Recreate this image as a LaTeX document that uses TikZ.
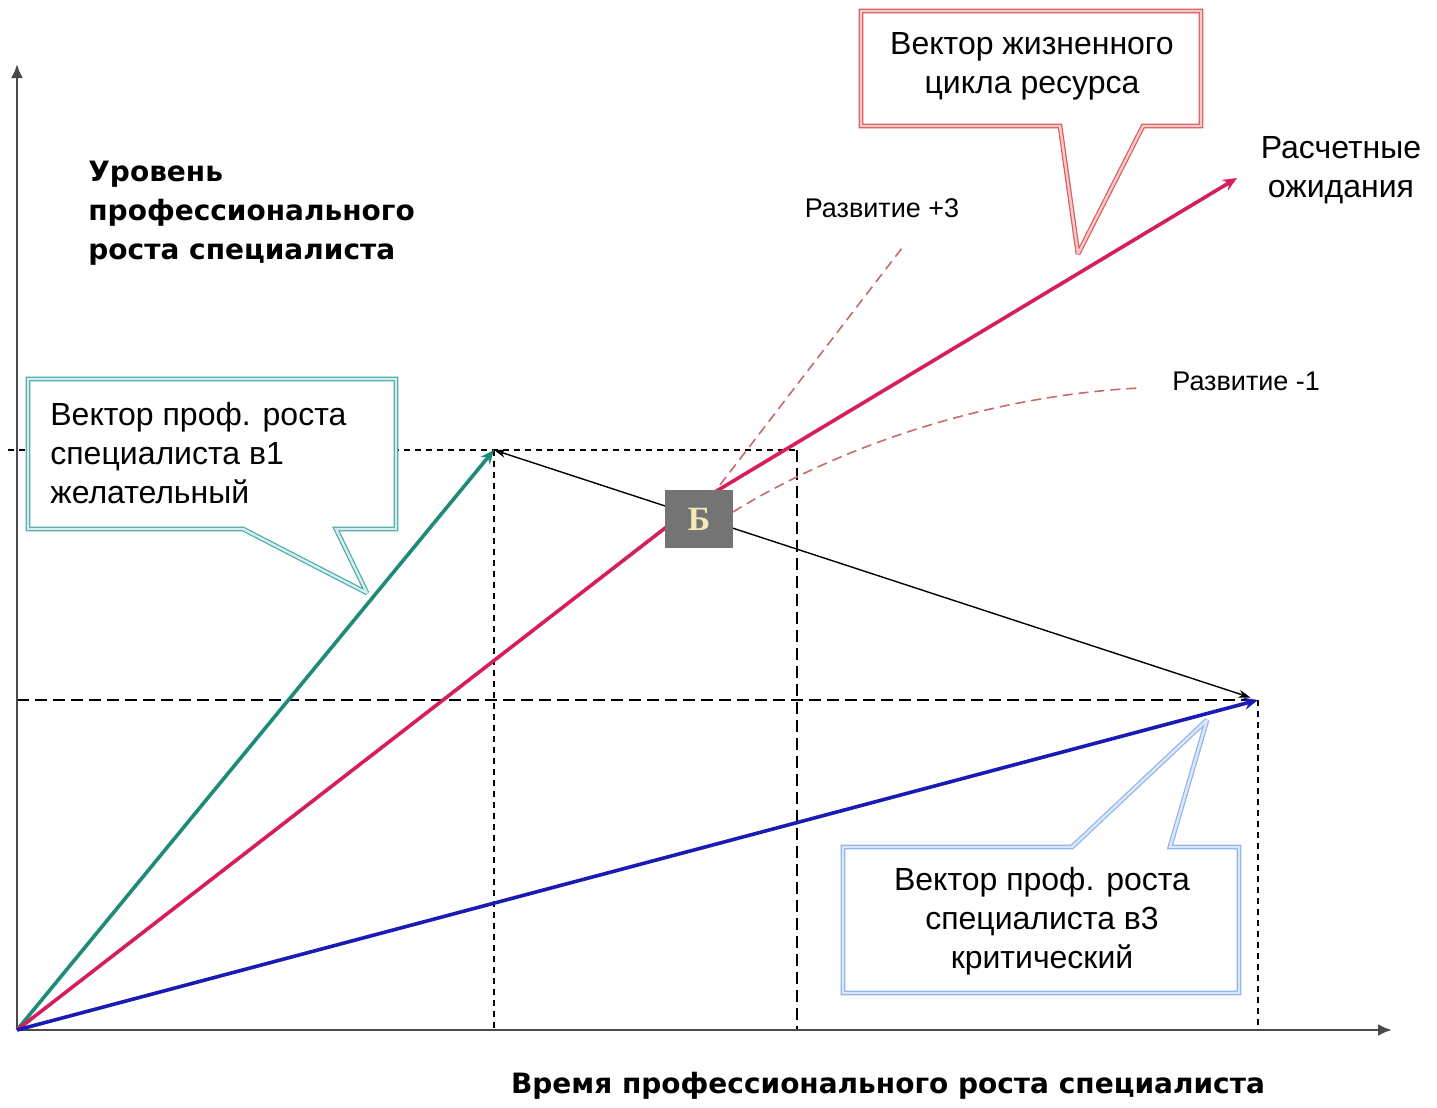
\documentclass[tikz,border=0pt]{standalone}
\usepackage{fontspec}
\setmainfont{Liberation Sans}
\newfontfamily\axisfont{DejaVu Sans Bold}
\newfontfamily\letterfont{Liberation Serif Bold}
\usetikzlibrary{arrows.meta}
\definecolor{axisgray}{HTML}{4A4A4A}
\definecolor{tealvec}{HTML}{1E8A78}
\definecolor{crimsonvec}{HTML}{D61E5C}
\definecolor{bluevec}{HTML}{1A1AB4}
\definecolor{trendred}{HTML}{C86A6A}
\definecolor{boxgray}{HTML}{747474}
\definecolor{letteryellow}{HTML}{F2EBB5}
\definecolor{calloutred}{HTML}{D95B5B}
\definecolor{calloutredin}{HTML}{F6C9C9}
\definecolor{calloutteal}{HTML}{4FA9A9}
\definecolor{callouttealin}{HTML}{D3EEEE}
\definecolor{calloutblue}{HTML}{8DB3EA}
\definecolor{calloutbluein}{HTML}{DCE8FA}

\begin{document}
\begin{tikzpicture}[x=0.5pt, y=-0.5pt,
  font=\fontsize{16}{19.5}\selectfont,
  axis/.style={draw=axisgray, line width=1.4pt, -{Latex[length=7pt, width=6pt]}},
  guide/.style={draw=black, line width=0.8pt, dash pattern=on 3pt off 2.5pt},
  guidelong/.style={draw=black, line width=0.8pt, dash pattern=on 6pt off 3pt},
  vec/.style={line width=1.8pt, -{Stealth[length=7pt, width=6pt]}},
  trend/.style={draw=trendred, line width=0.8pt, dash pattern=on 5pt off 3pt},
  callout/.style={fill=white, line width=0.6pt, double distance=1.2pt, miter limit=3},
  lbl/.style={inner sep=0pt, align=center},
  small/.style={lbl, font=\fontsize{13.5}{15}\selectfont},
  axislabel/.style={inner sep=0pt, align=left, font=\axisfont\fontsize{14}{19.5}\selectfont}]
\useasboundingbox (0,0) rectangle (1437,1108);
\coordinate (o) at (17,1030);
\coordinate (ytop) at (17,64);
\coordinate (xend) at (1392,1030);
\coordinate (v1) at (494,450);
\coordinate (v3) at (1258,700);
\coordinate (vr) at (1237,178);
\coordinate (bk) at (700,501);
\coordinate (mid) at (797,450);

\draw[guide] ([xshift=-4.5pt]o |- v1) -- (mid);
\draw[guide] (v1) -- (v1 |- o);
\draw[guidelong] (mid) -- (mid |- o);
\draw[guidelong] (o |- v3) -- (v3);
\draw[guide] (v3) -- (v3 |- o);
\draw[axis] (o) -- (ytop);
\draw[axis] (o) -- (xend);

\draw[vec, draw=tealvec] (o) -- (v1);
\draw[vec, draw=crimsonvec] (o) -- (bk) -- (vr);
\draw[vec, draw=bluevec] (o) -- (v3);
\draw[trend] (720,485) -- (902,248);
\draw[trend] (733,512) .. controls (850,440) and (1000,395) .. (1140,388);
\draw[line width=0.7pt, {Stealth[length=6pt, width=4pt]}-{Stealth[length=6pt, width=4pt]}, shorten >=4pt] (v1) -- (v3);

\node[fill=boxgray, minimum width=34pt, minimum height=29pt, inner sep=0pt,
  font=\letterfont\fontsize{17}{17}\selectfont, text=letteryellow] (b) at (699,519) {Б};

\draw[callout, draw=calloutred, double=calloutredin] (861,11) -- (1201,11) -- (1201,126) -- (1143,126)
  -- (1078,254) -- (1060,126) -- (861,126) -- cycle;
\node[lbl] (life) at (1032,66) {Вектор жизненного\\цикла ресурса};
\draw[callout, draw=calloutteal, double=callouttealin] (28,379) -- (396,379) -- (396,529) -- (336,529)
  -- (367,593) -- (243,529) -- (28,529) -- cycle;
\node[lbl, anchor=west, align=left] (want) at (50,453) {Вектор проф. роста\\специалиста в1\\желательный};
\draw[callout, draw=calloutblue, double=calloutbluein] (843,847) -- (1072,847) -- (1207,720) -- (1170,847)
  -- (1239,847) -- (1239,993) -- (843,993) -- cycle;
\node[lbl] (crit) at (1042,921) {Вектор проф. роста\\специалиста в3\\критический};

\node[small] (dplus) at (882,208) {Развитие +3};
\node[small, anchor=west] (dminus) at (1172,381) {Развитие -1};
\node[lbl] (calc) at (1341,170) {Расчетные\\ожидания};
\node[axislabel, anchor=west] (ylab) at (88,213) {Уровень\\профессионального\\роста специалиста};
\node[axislabel] (xlab) at (888,1086) {Время профессионального роста специалиста};
\end{tikzpicture}
\end{document}
